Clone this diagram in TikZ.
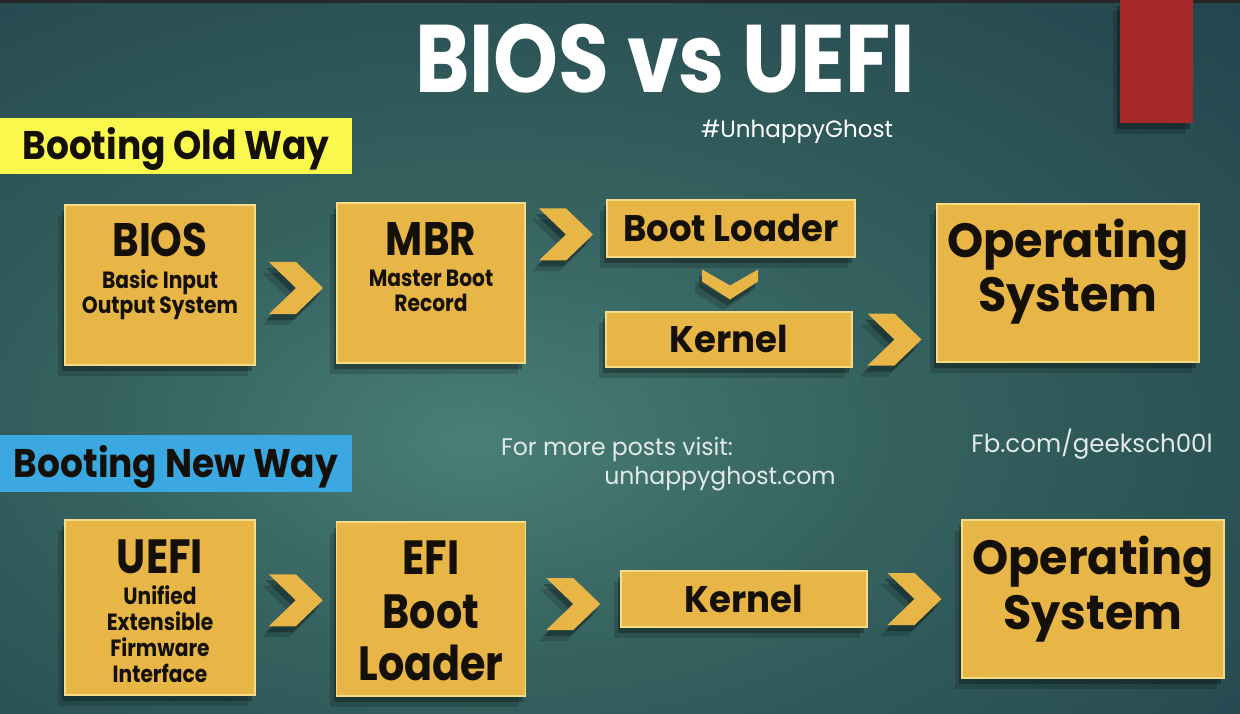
\documentclass[tikz,border=0pt]{standalone}
\usepackage{fontspec}
\setmainfont{Poppins}[FakeStretch=0.86]
\newfontfamily\popw{Poppins}[FakeStretch=0.96]
\newfontfamily\popn{Poppins}[FakeStretch=0.98]
\newfontfamily\popl{Poppins}[FakeStretch=0.90]
\usetikzlibrary{shadows,calc}
\definecolor{bgin}{HTML}{4A7E77}
\definecolor{bgmid}{HTML}{35625F}
\definecolor{bgout}{HTML}{1C3947}
\definecolor{gold}{HTML}{E8B646}
\definecolor{goldedge}{HTML}{F6DC86}
\definecolor{lblyellow}{HTML}{FAF84C}
\definecolor{lblblue}{HTML}{3BA8E2}
\definecolor{redbar}{HTML}{A6282A}
\definecolor{ink}{HTML}{141008}
\definecolor{softwhite}{HTML}{E2EAE8}
\pgfdeclareradialshading{bgshade}{\pgfpoint{-6bp}{-6bp}}{color(0bp)=(bgin); color(16bp)=(bgmid); color(50bp)=(bgout); color(100bp)=(bgout)}
\begin{document}
\begin{tikzpicture}[x=1pt,y=-1pt,
  shad/.style={drop shadow={shadow xshift=-3pt,shadow yshift=-6pt,opacity=.28,fill=black},
               drop shadow={shadow xshift=-7pt,shadow yshift=-11pt,opacity=.16,fill=black}},
  box/.style 2 args={draw=goldedge, line width=1.4pt, fill=gold, shad, inner sep=0pt,
               minimum width=#1pt, minimum height=#2pt, text=ink},
  lbl/.style 2 args={fill=#1, inner sep=0pt, minimum width=352pt, minimum height=#2pt,
               text=ink, font=\popl\bfseries\fontsize{40}{44}\selectfont, text height=28pt, text depth=0pt},
  bigt/.style={font=\bfseries\fontsize{47}{50}\selectfont, text=ink, anchor=base, inner sep=0pt},
  ost/.style={font=\bfseries\fontsize{48}{52}\selectfont, text=ink, anchor=base, inner sep=0pt},
  osw/.style={font=\popw\bfseries\fontsize{48}{52}\selectfont, text=ink, anchor=base, inner sep=0pt},
  smallt/.style={font=\bfseries\fontsize{23.5}{26}\selectfont, text=ink, anchor=base, inner sep=0pt},
  midt/.style={font=\popw\bfseries\fontsize{37}{40}\selectfont, text height=26pt, text depth=0pt},
  webt/.style={font=\popn\fontsize{24}{28}\selectfont, text=softwhite, anchor=base, inner sep=0pt},
  chevr/.pic={\fill[gold, shad] (-27,-26) -- (0,-26) -- (27,0) -- (0,26) -- (-27,26) -- (0,0) -- cycle;},
  chevd/.pic={\fill[gold, shad] (-28,-15) -- (0,1) -- (28,-15) -- (28,-3) -- (0,15) -- (-28,-3) -- cycle;}
]
\useasboundingbox (0,0) rectangle (1240,714);
% background
\shade[shading=bgshade] (0,0) rectangle (1240,714);
\fill[black!85] (0,0) rectangle (1240,3);
\fill[redbar, shad] (1120,0) rectangle (1193,123);

% titles
\node[font=\bfseries\fontsize{96}{100}\selectfont, text=white, anchor=base, inner sep=0pt] (title) at (665,93) {BIOS vs UEFI};
\node[font=\popn\fontsize{23.5}{26}\selectfont, text=white, anchor=base, inner sep=0pt] (tag) at (797,138) {\#UnhappyGhost};
\node[lbl={lblyellow}{56}] (oldway) at (176,146) {Booting Old Way};
\node[lbl={lblblue}{57}] (newway) at (176,463.5) {Booting New Way};
\node[webt] (visit) at (617,455) {For more posts visit:};
\node[webt] (site) at (720,484) {unhappyghost.com};
\node[webt, font=\popn\fontsize{25}{28}\selectfont] (fb) at (1092,452) {Fb.com/geeksch00l};

% old way
\node[box={190}{160}] (bios) at (160,285) {};
\node[bigt] (biosA) at ($(bios.north)+(0,52)$) {BIOS};
\node[smallt] (biosB) at ($(bios.north)+(0,84)$) {Basic Input};
\node[smallt] (biosC) at ($(bios.north)+(0,109)$) {Output System};

\node[box={188}{160}] (mbr) at (431,283) {};
\node[bigt] (mbrA) at ($(mbr.north)+(0,53)$) {MBR};
\node[smallt] (mbrB) at ($(mbr.north)+(0,84)$) {Master Boot};
\node[smallt] (mbrC) at ($(mbr.north)+(0,109)$) {Record};

\node[box={248}{57}, midt] (bl) at (731,228.5) {Boot Loader};
\node[box={246}{55}, midt] (k1) at (729,339.5) {Kernel};

\node[box={262}{158}] (os1) at (1068,283) {};
\node[osw] (os1A) at ($(os1.north)+(0,54)$) {Operating};
\node[osw] (os1B) at ($(os1.north)+(0,108)$) {System};

\pic at ($(bios.east)!.5!(mbr.west)+(0,4)$) {chevr};
\pic at ($(mbr.east |- bl.west)!.5!(bl.west)+(0,6)$) {chevr};
\pic at ($(bl.south)!.5!(k1.north)$) {chevd};
\pic at ($(k1.east)!.5!(k1.east -| os1.west)$) {chevr};

% new way
\node[box={190}{175}] (uefi) at (160,607.5) {};
\node[bigt, font=\bfseries\fontsize{48}{52}\selectfont] (uefiA) at ($(uefi.north)+(0,54)$) {UEFI};
\node[smallt] (uefiB) at ($(uefi.north)+(0,85)$) {Unified};
\node[smallt] (uefiC) at ($(uefi.north)+(0,111)$) {Extensible};
\node[smallt] (uefiD) at ($(uefi.north)+(0,137)$) {Firmware};
\node[smallt] (uefiE) at ($(uefi.north)+(0,163)$) {Interface};

\node[box={189}{174}] (efi) at (431,609) {};
\node[ost] (efiA) at ($(efi.north)+(0,53)$) {EFI};
\node[ost] (efiB) at ($(efi.north)+(0,107)$) {Boot};
\node[ost] (efiC) at ($(efi.north)+(0,159)$) {Loader};

\node[box={246}{56}, midt] (k2) at (744,599) {Kernel};

\node[box={262}{158}] (os2) at (1093,599) {};
\node[osw] (os2A) at ($(os2.north)+(0,55)$) {Operating};
\node[osw] (os2B) at ($(os2.north)+(0,110)$) {System};

\pic at ($(uefi.east)!.5!(efi.west)+(0,-8)$) {chevr};
\pic at ($(efi.east)!.5!(k2.west)$) {chevr};
\pic at ($(k2.east)!.5!(k2.east -| os2.west)$) {chevr};
\end{tikzpicture}
\end{document}
